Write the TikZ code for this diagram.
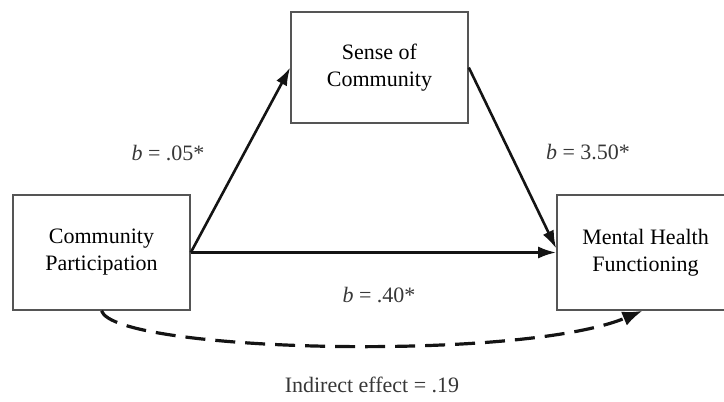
\documentclass[tikz,border=0pt]{standalone}
\usepackage{fontspec}
\setmainfont{Liberation Serif}
\usepackage{tikz}
\usetikzlibrary{arrows.meta, positioning}
\usepackage{xcolor}
\definecolor{boxline}{RGB}{85,85,85}
\definecolor{ink}{RGB}{20,20,20}

\begin{document}
\begin{tikzpicture}[x=0.5pt, y=0.5pt,
    var/.style={draw=boxline, line width=0.8pt, fill=white, align=center,
      minimum width=88.5pt, minimum height=57.5pt, inner sep=0pt,
      font=\fontsize{11}{13.5}\selectfont},
    path/.style={ink, line width=1.3pt, -{Latex[length=9pt, width=6pt]}},
    coef/.style={ink!85, font=\fontsize{11}{13}\selectfont}]
  \useasboundingbox (0,0) rectangle (724,402);
  % variables
  \node[var] (part) at (101.5,149.5) {Community\\Participation};
  \node[var, minimum height=55.5pt] (soc) at (379.5,334.5) {Sense of\\Community};
  \node[var] (mhf) at (645.5,149.5) {Mental Health\\Functioning};
  % paths
  \draw[path] (part.east) -- (soc.west);
  \draw[path] (soc.east) -- ([yshift=2pt]mhf.west);
  \draw[path] (part.east) -- (mhf.west);
  \draw[ink, line width=1.6pt, dash pattern=on 10pt off 5pt,
    -{Latex[length=10pt, width=7.5pt]}]
    (part.south) .. controls (115,50) and (520,40) .. ([xshift=-1.5pt]mhf.south);
  % coefficients
  \node[coef] at (168,249) {\textit{b} = .05*};
  \node[coef] at (588,250) {\textit{b} = 3.50*};
  \node[coef] at (379,107) {\textit{b} = .40*};
  \node[coef] at (372,17) {Indirect effect = .19};
\end{tikzpicture}
\end{document}
